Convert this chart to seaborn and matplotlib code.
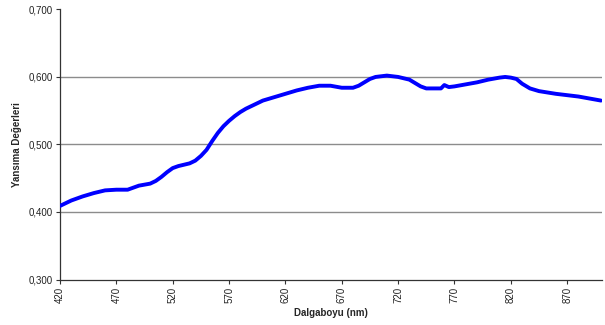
import matplotlib
matplotlib.use("Agg")
import matplotlib.pyplot as plt
import seaborn as sns
import pandas as pd

# wavelength (nm) and reflectance
wavelength = [420, 430, 440, 450, 460, 470, 480, 490, 500, 505, 510, 515, 520, 525, 530,
              535, 540, 545, 550, 555, 560, 565, 570, 575, 580, 585, 590, 600, 610,
              620, 630, 640, 650, 660, 670, 680, 685, 690, 695, 700, 710, 720, 730,
              735, 740, 745, 750, 758, 761, 765, 770, 780, 790, 800, 810, 815, 820,
              825, 830, 837, 845, 860, 870, 880, 890, 900]
reflectance = [0.409, 0.417, 0.423, 0.428, 0.432, 0.433, 0.433, 0.439, 0.442, 0.446,
               0.452, 0.459, 0.465, 0.468, 0.470, 0.472, 0.476, 0.483, 0.492, 0.505,
               0.517, 0.527, 0.535, 0.542, 0.548, 0.553, 0.557, 0.565, 0.570, 0.575,
               0.580, 0.584, 0.587, 0.587, 0.584, 0.584, 0.587, 0.592, 0.597, 0.600,
               0.602, 0.600, 0.596, 0.591, 0.586, 0.583, 0.583, 0.583, 0.588, 0.585,
               0.586, 0.589, 0.592, 0.596, 0.599, 0.600, 0.599, 0.597, 0.590, 0.583,
               0.579, 0.575, 0.573, 0.571, 0.568, 0.565]
x_ticks = [420, 470, 520, 570, 620, 670, 720, 770, 820, 870]
y_ticks = [0.3, 0.4, 0.5, 0.6, 0.7]

df = pd.DataFrame({"nm": wavelength, "r": reflectance})

sns.set_style("white")
plt.rcParams["font.family"] = ["Liberation Sans", "DejaVu Sans"]

fig = plt.figure(figsize=(6.05, 3.25), dpi=100)
ax = fig.add_axes([0.0992, 0.14, 0.896, 0.831])

for v in [0.4, 0.5, 0.6]:
    ax.axhline(v, color="#8c8c8c", lw=1.0, zorder=1)

sns.lineplot(data=df, x="nm", y="r", color="#0000ff", lw=2.8, ax=ax, zorder=3)

ax.set_xlim(420, 901)
ax.set_ylim(0.3, 0.7)
ax.set_xticks(x_ticks)
ax.set_xticklabels([str(t) for t in x_ticks], rotation=90, fontsize=7, color="#222222")
ax.set_yticks(y_ticks)
ax.set_yticklabels([f"{t:.3f}".replace(".", ",") for t in y_ticks], fontsize=7, color="#222222")
ax.tick_params(axis="both", direction="out", length=3, width=0.8, color="#333333", pad=2,
               left=True, bottom=True)

for s in ["top", "right"]:
    ax.spines[s].set_visible(False)
for s in ["left", "bottom"]:
    ax.spines[s].set_color("#333333")
    ax.spines[s].set_linewidth(0.9)

ax.set_xlabel("Dalgaboyu (nm)", fontsize=7, fontweight="bold", labelpad=4)
ax.set_ylabel("Yansıma Değerleri", fontsize=7, fontweight="bold", labelpad=5)

fig.savefig("out.png", dpi=100)
